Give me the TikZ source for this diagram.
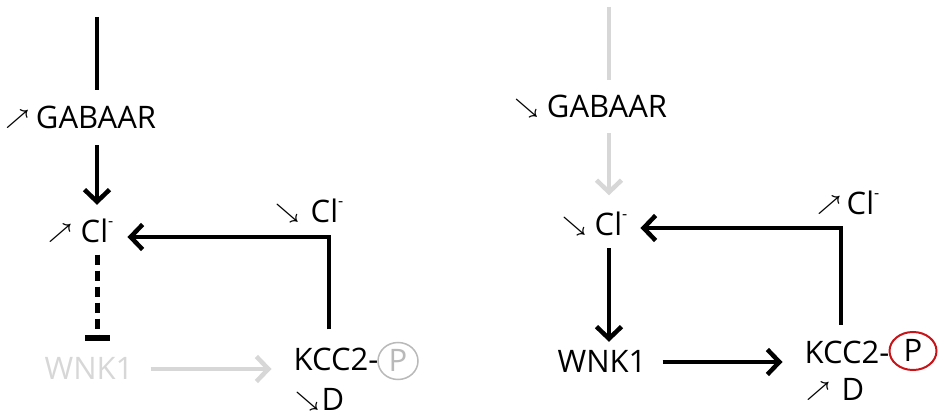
\documentclass[tikz,border=0pt]{standalone}
\usepackage{fontspec}
\setmainfont{Open Sans}
\usetikzlibrary{arrows.meta,shapes.geometric}
\definecolor{lg}{RGB}{215,215,215}
\definecolor{pg}{RGB}{185,185,185}
\definecolor{pr}{RGB}{200,20,25}
\newcommand{\cls}{Cl\raisebox{0.5em}{\fontsize{16}{16}\selectfont -}}
\newcommand{\ua}{\raisebox{4pt}{\boldmath$\nearrow$}}
\newcommand{\da}{\raisebox{4pt}{\boldmath$\searrow$}}
\begin{document}
\begin{tikzpicture}[x=1pt,y=-1pt,
  lbl/.style={font=\fontsize{31}{32}\selectfont, inner sep=0pt, text height=21pt, text depth=0pt},
  sym/.style={font=\fontsize{22}{22}\selectfont, inner sep=0pt},
  conn/.style={line width=4.5pt},
  arr/.style={conn, -{Straight Barb[length=12pt,width=25pt]}},
  pcirc/.style={ellipse, draw, inner sep=0pt, font=\fontsize{31}{32}\selectfont, text height=21pt, text depth=0pt}
]
\path[use as bounding box] (0,0) rectangle (945,419);

% ---------- left panel ----------
\coordinate (topL) at (97,17);
\node[lbl] (gabaL) at (96,118) {GABAAR};
\node[sym, anchor=base east] (sgL) at ([xshift=-6pt]gabaL.base west) {\ua};
\node[lbl] (clL) at (97,232) {\cls};
\node[sym, anchor=base east] (sclL) at ([xshift=-8pt]clL.base west) {\ua};
\node[lbl] (cl2L) at (327,212) {\cls};
\node[sym, anchor=base east] (scl2L) at ([xshift=-11pt]cl2L.base west) {\da};
\node[lbl, text=lg] (wnkL) at (89,369) {WNK1};
\node[lbl] (kccL) at (336,360) {KCC2-};
\node[pcirc, draw=pg, text=pg, line width=1.5pt, minimum width=40pt, minimum height=37pt] (pL) at (398,361) {P};
\node[lbl] (dL) at (333,400) {D};
\node[sym, anchor=base east] (sdL) at ([xshift=-2pt]dL.base west) {\da};
\coordinate (cornL) at (329,237);

\draw[conn, shorten >=17.5pt] (topL) -- (gabaL.north -| topL);
\draw[arr, shorten <=16.5pt, shorten >=16.5pt] (gabaL.south -| topL) -- (clL.north -| topL);
\draw[line width=5pt, dash pattern=on 10pt off 6pt, -{Bar[width=25pt,line width=6pt]}, shorten <=12pt, shorten >=17pt] (clL.south -| topL) -- (wnkL.north -| topL);
\draw[arr, lg, shorten <=17pt, shorten >=22pt] (wnkL.east) -- (wnkL.east -| kccL.west);
\draw[arr, shorten <=20pt, shorten >=14pt] (kccL.north -| cornL) -- (cornL) -- (clL.east |- cornL);

% ---------- right panel ----------
\coordinate (topR) at (609,7);
\node[lbl] (gabaR) at (607,107) {GABAAR};
\node[sym, anchor=base east] (sgR) at ([xshift=-8pt]gabaR.base west) {\da};
\node[lbl] (clR) at (611,225) {\cls};
\node[sym, anchor=base east] (sclR) at ([xshift=-8pt]clR.base west) {\da};
\node[lbl] (cl2R) at (863,204) {\cls};
\node[sym, anchor=base east] (scl2R) at ([xshift=-5pt]cl2R.base west) {\ua};
\node[lbl] (wnkR) at (602,362) {WNK1};
\node[lbl] (kccR) at (847,353) {KCC2-};
\node[pcirc, draw=pr, line width=2pt, minimum width=47pt, minimum height=38pt] (pR) at (913,351) {P};
\node[lbl] (dR) at (853,390) {D};
\node[sym, anchor=base east] (sdR) at ([xshift=-11pt]dR.base west) {\ua};
\coordinate (cornR) at (841,228);

\draw[conn, lg, shorten >=16pt] (topR) -- (gabaR.north -| topR);
\draw[arr, lg, shorten <=15.5pt, shorten >=19pt] (gabaR.south -| topR) -- (clR.north -| topR);
\draw[arr, shorten <=12.5pt, shorten >=9.5pt] (clR.south -| topR) -- (wnkR.north -| topR);
\draw[arr, shorten <=16pt, shorten >=22pt] (wnkR.east) -- (wnkR.east -| kccR.west);
\draw[arr, shorten <=17.5pt, shorten >=13pt] (kccR.north -| cornR) -- (cornR) -- (clR.east |- cornR);
\end{tikzpicture}
\end{document}
